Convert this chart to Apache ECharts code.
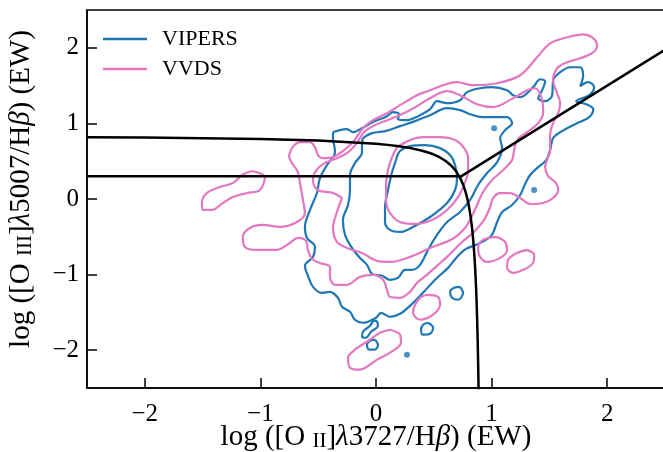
<!DOCTYPE html>
<html>
<head>
<meta charset="utf-8">
<script src="https://cdn.jsdelivr.net/npm/echarts@6/dist/echarts.min.js"></script>
<style>html,body{margin:0;padding:0;background:#fff}#c{width:663px;height:452px}</style>
</head>
<body>
<div id="c"></div>
<script>
// ---------- data ----------
const xTicks = [-2, -1, 0, 1, 2];
const yTicks = [-2, -1, 0, 1, 2];
const seriesNames = ['VIPERS', 'VVDS'];
const xTitle = 'log ([O {sc|II}]{it|λ}3727/H{it|β}) (EW)';
const yTitle = 'log ([O {sc|III}]{it|λ}5007/H{it|β}) (EW)';

// demarcation lines
const curveLine = [[-2.5,0.818],[-2,0.812],[-1.5,0.805],[-1,0.793],[-0.5,0.773],[0,0.730],[0.1,0.716],[0.2,0.697],[0.3,0.673],[0.4,0.638],[0.45,0.616],[0.5,0.588],[0.55,0.553],[0.6,0.506],[0.65,0.443],[0.68,0.392],[0.7,0.35],[0.72,0.30],[0.74,0.239],[0.75,0.203],[0.76,0.163],[0.77,0.117],[0.78,0.064],[0.79,0.004],[0.8,-0.067],[0.81,-0.15],[0.82,-0.25],[0.83,-0.372],[0.84,-0.525],[0.85,-0.721],[0.855,-0.842],[0.86,-0.983],[0.865,-1.15],[0.87,-1.35],[0.875,-1.594],[0.88,-1.9],[0.885,-2.293],[0.888,-2.588]];
const flatLine = [[-2.5,0.3],[0.72,0.3]];
const slopeLine = [[0.725,0.29],[2.5,1.975]];

// VIPERS contours
const vipersInner = [[0.173,0.515],[0.208,0.634],[0.294,0.700],[0.424,0.713],[0.554,0.673],[0.641,0.581],[0.684,0.449],[0.701,0.277],[0.684,0.119],[0.615,-0.053],[0.468,-0.238],[0.320,-0.370],[0.208,-0.436],[0.121,-0.409],[0.078,-0.304],[0.078,-0.106],[0.104,0.119],[0.139,0.356]];
const vipersMid = [[-0.113,0.805],[-0.035,0.871],[0.078,0.898],[0.208,0.964],[0.338,1.030],[0.468,1.109],[0.615,1.201],[0.727,1.175],[0.814,1.122],[0.918,1.083],[1.030,1.083],[1.134,1.083],[1.177,1.003],[1.117,0.911],[1.074,0.805],[1.091,0.673],[1.048,0.488],[0.961,0.343],[0.883,0.185],[0.814,-0.013],[0.727,-0.172],[0.615,-0.304],[0.528,-0.475],[0.450,-0.673],[0.381,-0.871],[0.312,-0.937],[0.251,-0.937],[0.190,-1.043],[0.121,-1.069],[0.052,-1.016],[-0.035,-0.990],[-0.078,-0.871],[-0.139,-0.779],[-0.208,-0.647],[-0.268,-0.475],[-0.286,-0.277],[-0.242,-0.079],[-0.225,0.119],[-0.225,0.317],[-0.182,0.475],[-0.121,0.620],[-0.121,0.739]];
const vipersOuter = [[-0.372,0.779],[-0.372,0.871],[-0.312,0.911],[-0.251,0.924],[-0.199,0.884],[-0.121,0.937],[-0.026,1.017],[0.095,1.096],[0.147,1.149],[0.199,1.122],[0.190,1.056],[0.268,1.043],[0.364,1.096],[0.468,1.188],[0.528,1.294],[0.615,1.267],[0.727,1.307],[0.788,1.413],[0.900,1.465],[1.004,1.479],[1.134,1.439],[1.186,1.373],[1.247,1.347],[1.359,1.479],[1.420,1.584],[1.463,1.558],[1.437,1.439],[1.403,1.333],[1.463,1.294],[1.524,1.373],[1.532,1.571],[1.593,1.677],[1.680,1.743],[1.766,1.743],[1.792,1.637],[1.766,1.492],[1.836,1.545],[1.887,1.479],[1.844,1.373],[1.732,1.294],[1.818,1.254],[1.879,1.188],[1.844,1.083],[1.723,0.990],[1.610,0.898],[1.532,0.805],[1.506,0.647],[1.472,0.515],[1.403,0.422],[1.333,0.317],[1.290,0.198],[1.247,0.053],[1.177,-0.079],[1.091,-0.172],[1.048,-0.304],[0.996,-0.488],[0.883,-0.594],[0.779,-0.660],[0.701,-0.766],[0.623,-0.911],[0.511,-1.069],[0.398,-1.254],[0.294,-1.413],[0.208,-1.518],[0.121,-1.558],[0.043,-1.505],[0.000,-1.571],[-0.113,-1.637],[-0.182,-1.597],[-0.225,-1.492],[-0.294,-1.426],[-0.329,-1.307],[-0.398,-1.228],[-0.468,-1.241],[-0.545,-1.162],[-0.589,-1.016],[-0.615,-0.884],[-0.545,-0.766],[-0.528,-0.634],[-0.597,-0.515],[-0.615,-0.370],[-0.571,-0.145],[-0.511,0.079],[-0.485,0.277],[-0.424,0.449],[-0.355,0.620]];
const vipersIsle1 = [[0.727,-1.162],[0.753,-1.241],[0.710,-1.333],[0.658,-1.307],[0.641,-1.228],[0.675,-1.175]];
const vipersIsle2 = [[0.450,-1.637],[0.494,-1.703],[0.468,-1.782],[0.407,-1.795],[0.390,-1.729],[0.407,-1.663]];
const vipersIsle3 = [[0.009,-1.611],[0.017,-1.677],[-0.043,-1.756],[-0.087,-1.835],[-0.121,-1.822],[-0.113,-1.756],[-0.052,-1.677],[-0.017,-1.611]];
const vipersIsle4 = [[-0.009,-1.861],[0.017,-1.927],[-0.009,-1.993],[-0.061,-1.993],[-0.078,-1.927],[-0.052,-1.875]];
const vipersDots = [[1.368,0.119],[1.022,0.937],[0.268,-2.06]];

// VVDS contours
const vvdsInner = [[0.182,0.686],[0.294,0.779],[0.407,0.818],[0.554,0.818],[0.684,0.779],[0.762,0.673],[0.797,0.541],[0.797,0.383],[0.771,0.224],[0.710,0.026],[0.615,-0.145],[0.485,-0.277],[0.338,-0.330],[0.208,-0.304],[0.121,-0.185],[0.087,-0.013],[0.087,0.185],[0.104,0.383],[0.139,0.554]];
const vvdsMid = [[-0.294,0.013],[-0.372,0.079],[-0.502,0.119],[-0.545,0.251],[-0.528,0.356],[-0.459,0.462],[-0.355,0.528],[-0.251,0.607],[-0.165,0.739],[-0.104,0.884],[-0.009,0.977],[0.121,1.056],[0.294,1.175],[0.468,1.333],[0.615,1.426],[0.727,1.373],[0.874,1.254],[1.013,1.215],[1.186,1.333],[1.307,1.439],[1.377,1.465],[1.437,1.307],[1.446,1.149],[1.403,1.003],[1.307,0.884],[1.221,0.779],[1.195,0.647],[1.177,0.515],[1.100,0.383],[1.004,0.251],[0.926,0.092],[0.874,-0.079],[0.826,-0.238],[0.770,-0.383],[0.660,-0.530],[0.468,-0.647],[0.294,-0.766],[0.121,-0.832],[0.009,-0.818],[-0.121,-0.713],[-0.251,-0.647],[-0.338,-0.568],[-0.372,-0.383],[-0.338,-0.172]];
const vvdsOuter = [[-0.753,0.554],[-0.727,0.673],[-0.658,0.752],[-0.571,0.752],[-0.528,0.686],[-0.502,0.581],[-0.459,0.541],[-0.372,0.554],[-0.286,0.634],[-0.199,0.752],[-0.113,0.937],[-0.026,1.043],[0.095,1.135],[0.208,1.241],[0.355,1.373],[0.468,1.439],[0.580,1.505],[0.701,1.545],[0.840,1.505],[1.048,1.531],[1.247,1.637],[1.394,1.875],[1.506,2.059],[1.654,2.139],[1.792,2.178],[1.870,2.139],[1.913,2.033],[1.879,1.941],[1.766,1.861],[1.654,1.809],[1.567,1.729],[1.532,1.571],[1.567,1.399],[1.593,1.267],[1.576,1.135],[1.532,1.003],[1.506,0.845],[1.506,0.647],[1.463,0.422],[1.489,0.304],[1.558,0.211],[1.576,0.119],[1.532,0.013],[1.446,-0.053],[1.333,-0.066],[1.247,0.013],[1.160,0.079],[1.074,0.079],[1.013,0.013],[0.987,-0.106],[0.935,-0.277],[0.848,-0.436],[0.745,-0.568],[0.615,-0.766],[0.528,-0.884],[0.450,-0.990],[0.355,-1.109],[0.294,-1.228],[0.208,-1.307],[0.121,-1.294],[0.095,-1.201],[0.061,-1.069],[-0.026,-1.003],[-0.139,-1.030],[-0.251,-1.135],[-0.355,-1.135],[-0.398,-1.030],[-0.398,-0.898],[-0.485,-0.845],[-0.554,-0.792],[-0.589,-0.673],[-0.606,-0.554],[-0.675,-0.515],[-0.745,-0.581],[-0.857,-0.673],[-1.030,-0.673],[-1.134,-0.634],[-1.152,-0.502],[-1.091,-0.383],[-0.978,-0.343],[-0.831,-0.370],[-0.684,-0.304],[-0.615,-0.185],[-0.632,-0.013],[-0.658,0.211],[-0.675,0.356],[-0.727,0.475]];
const vvdsIsleLeft = [[-1.074,0.370],[-0.961,0.290],[-1.004,0.119],[-1.117,0.079],[-1.238,0.026],[-1.325,-0.053],[-1.420,-0.145],[-1.498,-0.145],[-1.506,-0.053],[-1.463,0.079],[-1.351,0.158],[-1.238,0.211],[-1.160,0.317]];
const vvdsIsleA = [[1.048,-0.502],[1.117,-0.568],[1.134,-0.673],[1.074,-0.779],[0.961,-0.832],[0.900,-0.766],[0.883,-0.647],[0.926,-0.541]];
const vvdsIsleB = [[1.307,-0.673],[1.368,-0.739],[1.359,-0.845],[1.273,-0.937],[1.186,-0.977],[1.134,-0.911],[1.143,-0.805],[1.221,-0.713]];
const vvdsIsleC = [[0.121,-1.729],[0.208,-1.795],[0.216,-1.901],[0.121,-2.033],[0.009,-2.125],[-0.139,-2.257],[-0.225,-2.231],[-0.242,-2.099],[-0.182,-1.993],[-0.078,-1.888],[0.035,-1.769]];
const vvdsIsleD = [[0.442,-1.267],[0.537,-1.294],[0.554,-1.399],[0.494,-1.531],[0.381,-1.597],[0.320,-1.505],[0.338,-1.399],[0.381,-1.307]];

// ---------- chart ----------
const BLUE = '#1f77b4', PINK = '#e377c2';
const FONT = 'Liberation Serif';
const fmt = v => (v < 0 ? '\u2212' + Math.abs(v) : String(v));

function loop(name, pts, color) {
  return {
    type: 'line', name: name, data: pts.concat([pts[0]]),
    showSymbol: false, smooth: 0.35, silent: true, animation: false,
    lineStyle: { color: color, width: 2.2 }, itemStyle: { color: color }, z: 2
  };
}
function blackLine(pts) {
  return {
    type: 'line', name: 'demarc', data: pts, showSymbol: false, smooth: false,
    silent: true, animation: false, lineStyle: { color: '#000', width: 2.5 }, z: 5
  };
}

const series = [];
[vipersOuter, vipersMid, vipersInner, vipersIsle1, vipersIsle2, vipersIsle3, vipersIsle4]
  .forEach(p => series.push(loop(seriesNames[0], p, BLUE)));
series.push({ type: 'scatter', name: seriesNames[0], data: vipersDots, symbolSize: 6,
  itemStyle: { color: BLUE }, silent: true, animation: false, z: 2 });
[vvdsOuter, vvdsMid, vvdsInner, vvdsIsleLeft, vvdsIsleA, vvdsIsleB, vvdsIsleC, vvdsIsleD]
  .forEach(p => series.push(Object.assign(loop(seriesNames[1], p, PINK), { z: 3 })));
series.push(blackLine(curveLine), blackLine(flatLine), blackLine(slopeLine));

const axisCommon = (ticks) => ({
  type: 'value', min: -2.5, max: 2.5,
  axisLine: { show: true, onZero: false, lineStyle: { color: '#000', width: 1.5 } },
  axisTick: { show: true, inside: true, length: 10, customValues: ticks, lineStyle: { color: '#000', width: 1.5 } },
  axisLabel: { customValues: ticks, formatter: fmt, color: '#000', fontSize: 25, fontFamily: FONT },
  splitLine: { show: false },
  nameLocation: 'middle',
  nameMoveOverlap: false,
  nameTextStyle: {
    fontSize: 29, fontFamily: FONT, color: '#000',
    rich: {
      sc: { fontSize: 21, fontFamily: FONT, color: '#000', verticalAlign: 'bottom' },
      it: { fontSize: 29, fontFamily: FONT, fontStyle: 'italic', color: '#000', verticalAlign: 'bottom' }
    }
  }
});

const xAxis = Object.assign(axisCommon(xTicks), { name: xTitle, nameGap: 35 });
xAxis.axisLabel.margin = 14;
const yAxis = Object.assign(axisCommon(yTicks), { name: yTitle, nameGap: 51 });
yAxis.axisLabel.margin = 8;
yAxis.nameTextStyle.padding = [0, 0, 0, 20];

const chart = echarts.init(document.getElementById('c'), null, { renderer: 'canvas' });
chart.setOption({
  animation: false,
  backgroundColor: '#fff',
  grid: { left: 87, right: -2, top: 10, bottom: 64, outerBoundsMode: 'none', containLabel: false,
    show: true, borderColor: '#000', borderWidth: 1.5, backgroundColor: 'transparent' },
  xAxis: xAxis,
  yAxis: yAxis,
  legend: {
    data: [{ name: seriesNames[0], icon: 'rect' }, { name: seriesNames[1], icon: 'rect' }],
    orient: 'vertical', left: 103, top: 28, padding: 0,
    itemWidth: 44, itemHeight: 2.5, itemGap: 8,
    textStyle: { fontSize: 22, fontFamily: FONT, color: '#000', lineHeight: 20, padding: [0, 0, 0, 10] },
    selectedMode: false
  },
  series: series
});
</script>
</body>
</html>
